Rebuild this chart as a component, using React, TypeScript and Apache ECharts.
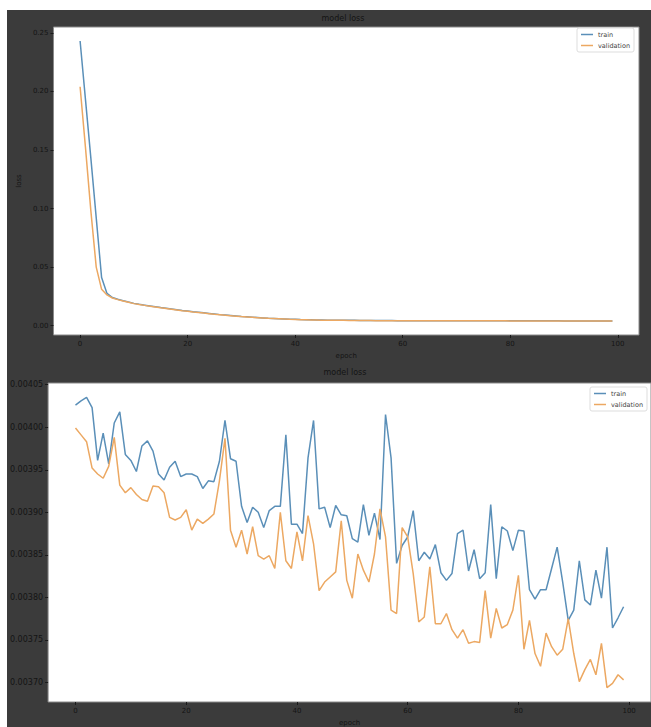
import React, { useEffect, useRef } from "react";
import * as echarts from "echarts";

// ---------- data ----------
const topTrain = [
  0.243, 0.193, 0.143, 0.092, 0.041, 0.0275, 0.024, 0.0226, 0.0213, 0.0201,
  0.019, 0.0182, 0.0175, 0.0168, 0.0161, 0.0154, 0.0148, 0.0142, 0.0136, 0.013,
  0.0125, 0.0119, 0.0114, 0.0109, 0.0104, 0.0099, 0.0094, 0.009, 0.0086, 0.0082,
  0.0078, 0.0075, 0.0072, 0.0069, 0.0066, 0.0063, 0.0061, 0.0059, 0.0057, 0.0055,
  0.0054, 0.0052, 0.0051, 0.005, 0.0049, 0.0048, 0.0047, 0.0047, 0.0046, 0.0046,
  0.0045, 0.0045, 0.0044, 0.0044, 0.0044, 0.0043, 0.0043, 0.0043, 0.0043, 0.0042,
  0.0042, 0.0042, 0.0042, 0.0042, 0.0042, 0.0042, 0.0042, 0.0042, 0.0042, 0.0042,
  0.0042, 0.0042, 0.0041, 0.0041, 0.0041, 0.0041, 0.0041, 0.0041, 0.0041, 0.0041,
  0.0041, 0.0041, 0.0041, 0.0041, 0.0041, 0.0041, 0.0041, 0.0041, 0.0041, 0.0041,
  0.004, 0.004, 0.004, 0.004, 0.004, 0.004, 0.004, 0.004, 0.004, 0.004,
];
const topValidation = [
  0.204, 0.152, 0.098, 0.05, 0.031, 0.0262, 0.0236, 0.0222, 0.021, 0.0199,
  0.0188, 0.018, 0.0173, 0.0166, 0.0159, 0.0152, 0.0146, 0.014, 0.0134, 0.0128,
  0.0123, 0.0117, 0.0112, 0.0107, 0.0102, 0.0097, 0.0093, 0.0089, 0.0085, 0.0081,
  0.0077, 0.0074, 0.0071, 0.0068, 0.0065, 0.0062, 0.006, 0.0058, 0.0056, 0.0054,
  0.0053, 0.0051, 0.005, 0.0049, 0.0048, 0.0047, 0.0046, 0.0046, 0.0045, 0.0045,
  0.0044, 0.0044, 0.0043, 0.0043, 0.0043, 0.0042, 0.0042, 0.0042, 0.0042, 0.0041,
  0.0041, 0.0041, 0.0041, 0.0041, 0.0041, 0.0041, 0.0041, 0.0041, 0.0041, 0.0041,
  0.0041, 0.0041, 0.0041, 0.0041, 0.0041, 0.0041, 0.0041, 0.0041, 0.0041, 0.0041,
  0.004, 0.004, 0.004, 0.004, 0.004, 0.004, 0.004, 0.004, 0.004, 0.004,
  0.004, 0.004, 0.004, 0.004, 0.004, 0.004, 0.004, 0.004, 0.004, 0.004,
];
const bottomTrain = [
  0.004026, 0.004031, 0.004035, 0.004023, 0.003961, 0.003993, 0.003957, 0.004005, 0.004018, 0.003968,
  0.003961, 0.003948, 0.003978, 0.003984, 0.003972, 0.003945, 0.003938, 0.003953, 0.00396, 0.003942,
  0.003945, 0.003945, 0.003942, 0.003928, 0.003937, 0.003936, 0.00396, 0.004008, 0.003963, 0.00396,
  0.003907, 0.003888, 0.003906, 0.0039, 0.003882, 0.003902, 0.003907, 0.003907, 0.003991, 0.003886,
  0.003886, 0.003875, 0.003964, 0.004008, 0.003904, 0.003906, 0.003882, 0.003908, 0.003897, 0.003896,
  0.003869, 0.003865, 0.003909, 0.003873, 0.003899, 0.003868, 0.004015, 0.003964, 0.00384, 0.003861,
  0.003871, 0.003902, 0.003843, 0.003853, 0.003845, 0.003862, 0.003829, 0.00382, 0.003828, 0.003875,
  0.003879, 0.003831, 0.003856, 0.003822, 0.003829, 0.003909, 0.003822, 0.003883, 0.003878, 0.003855,
  0.003879, 0.003878, 0.003809, 0.003798, 0.003809, 0.003809, 0.003834, 0.003859, 0.003818, 0.003773,
  0.003785, 0.003843, 0.003797, 0.003791, 0.003832, 0.003799, 0.003859, 0.003764, 0.003776, 0.003789,
];
const bottomValidation = [
  0.003999, 0.003991, 0.003983, 0.003952, 0.003945, 0.00394, 0.003954, 0.003988, 0.003932, 0.003923,
  0.003929, 0.003921, 0.003915, 0.003913, 0.003931, 0.00393, 0.003923, 0.003894, 0.003891, 0.003894,
  0.003903, 0.003879, 0.003892, 0.003887, 0.003892, 0.003898, 0.003937, 0.003987, 0.003879, 0.003859,
  0.003879, 0.003851, 0.003883, 0.003849, 0.003845, 0.003849, 0.003834, 0.0039, 0.003843, 0.003834,
  0.003877, 0.003843, 0.003896, 0.003863, 0.003808, 0.003818, 0.003824, 0.00383, 0.00389, 0.00382,
  0.003799, 0.003851, 0.003832, 0.003818, 0.003851, 0.003904, 0.003871, 0.003785, 0.003781, 0.003882,
  0.003871, 0.003828, 0.003771, 0.003777, 0.003836, 0.003769, 0.003769, 0.003781, 0.003762, 0.003752,
  0.003762, 0.003746, 0.003748, 0.003747, 0.003808, 0.003752, 0.003787, 0.003764, 0.003768, 0.003785,
  0.003826, 0.003739, 0.003773, 0.003734, 0.003719, 0.003758, 0.003742, 0.003732, 0.003739, 0.003775,
  0.003734, 0.003701, 0.003715, 0.003727, 0.003709, 0.003746, 0.003694, 0.003699, 0.003709, 0.003703,
];
const xTicks = [0, 20, 40, 60, 80, 100];
const topYTicks = [0, 0.05, 0.1, 0.15, 0.2, 0.25];
const bottomYTicks = [0.0037, 0.00375, 0.0038, 0.00385, 0.0039, 0.00395, 0.004, 0.00405];
const seriesNames = ["train", "validation"];
const titleText = "model loss";
const xName = "epoch";
const yName = "loss";

// ---------- styling ----------
const FONT = "DejaVu Sans";
const BG = "#3b3b3b";
const TXT = "#141414";
const BLUE = "#5a8fb8";
const ORANGE = "#eca862";

const toPairs = (arr: number[]) => arr.map((v, i) => [i, v]);

function xAxisCfg(grid: number, fs: number) {
  return {
    type: "value",
    gridIndex: grid,
    min: -4.95,
    max: 103.95,
    name: xName,
    nameLocation: "middle",
    nameGap: 17,
    nameTextStyle: { color: TXT, fontSize: fs, fontFamily: FONT },
    axisLine: { show: false, onZero: false },
    axisTick: { show: true, length: 3, customValues: xTicks, lineStyle: { color: "#1a1a1a", width: 1 } },
    axisLabel: { customValues: xTicks, color: TXT, fontSize: fs, fontFamily: FONT, margin: 5, formatter: (v: number) => String(v) },
    splitLine: { show: false },
  };
}

function yAxisCfg(grid: number, min: number, max: number, ticks: number[], dec: number, fs: number, named: boolean) {
  return {
    type: "value",
    gridIndex: grid,
    min,
    max,
    name: named ? yName : "",
    nameLocation: "middle",
    nameGap: 27,
    nameTextStyle: { color: TXT, fontSize: fs, fontFamily: FONT },
    axisLine: { show: false, onZero: false },
    axisTick: { show: true, length: 3, customValues: ticks, lineStyle: { color: "#1a1a1a", width: 1 } },
    axisLabel: { customValues: ticks, color: TXT, fontSize: fs, fontFamily: FONT, margin: 5, formatter: (v: number) => v.toFixed(dec) },
    splitLine: { show: false },
  };
}

function legendCfg(left: number, top: number) {
  return {
    data: seriesNames,
    orient: "vertical",
    left,
    top,
    icon: "rect",
    itemWidth: 12,
    itemHeight: 1.5,
    itemGap: 4,
    padding: [3, 4, 3, 4],
    backgroundColor: "#ffffff",
    borderColor: "#dddddd",
    borderWidth: 1,
    borderRadius: 2,
    textStyle: { color: "#444", fontSize: 6.5, fontFamily: FONT, padding: [0, 0, 0, 0] },
  };
}

function lineSeries(name: string, color: string, idx: number, data: number[]) {
  return {
    name,
    type: "line",
    xAxisIndex: idx,
    yAxisIndex: idx,
    data: toPairs(data),
    symbol: "none",
    lineStyle: { color, width: 1.5 },
    itemStyle: { color },
  };
}

export default function App() {
  const ref = useRef<HTMLDivElement>(null);
  useEffect(() => {
    if (!ref.current) return;
    const chart = echarts.init(ref.current, undefined, { renderer: "svg" });
    chart.setOption({
      animation: false,
      backgroundColor: BG,
      textStyle: { fontFamily: FONT },
      grid: [
        { left: 40, top: 17, width: 592, height: 308, show: true, backgroundColor: "#ffffff", borderColor: "#8a8a8a", borderWidth: 1 },
        { left: 35, top: 373, width: 612, height: 322, show: true, backgroundColor: "#ffffff", borderColor: "#8a8a8a", borderWidth: 1 },
      ],
      xAxis: [xAxisCfg(0, 7), xAxisCfg(1, 7)],
      yAxis: [
        yAxisCfg(0, -0.008, 0.255, topYTicks, 2, 7, true),
        yAxisCfg(1, 0.003677, 0.004052, bottomYTicks, 5, 8, false),
      ],
      legend: [legendCfg(570, 18), legendCfg(583, 377)],
      graphic: [
        {
          type: "text",
          x: 336,
          y: 8,
          style: { text: titleText, fill: TXT, fontSize: 8, fontFamily: FONT, textAlign: "center", textVerticalAlign: "middle", align: "center", verticalAlign: "middle" },
        },
        {
          type: "text",
          x: 338,
          y: 362,
          style: { text: titleText, fill: TXT, fontSize: 8, fontFamily: FONT, textAlign: "center", textVerticalAlign: "middle", align: "center", verticalAlign: "middle" },
        },
      ],
      series: [
        lineSeries(seriesNames[0], BLUE, 0, topTrain),
        lineSeries(seriesNames[1], ORANGE, 0, topValidation),
        lineSeries(seriesNames[0], BLUE, 1, bottomTrain),
        lineSeries(seriesNames[1], ORANGE, 1, bottomValidation),
      ],
    });
    return () => chart.dispose();
  }, []);
  return (
    <div style={{ position: "fixed", left: 0, top: 0, width: 651, height: 727, background: "#ffffff", overflow: "hidden" }}>
      <div ref={ref} style={{ position: "absolute", left: 7, top: 10, width: 644, height: 717 }} />
    </div>
  );
}
